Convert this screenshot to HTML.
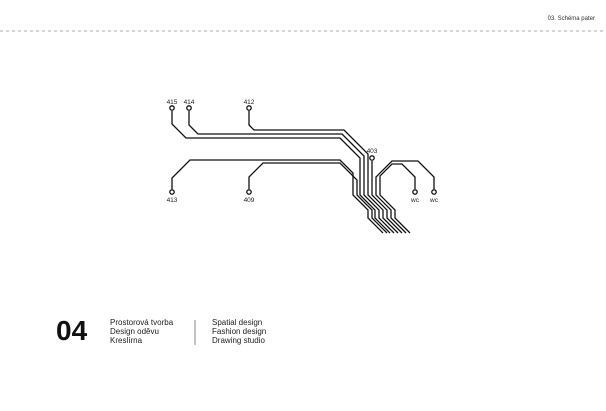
<!DOCTYPE html>
<html><head><meta charset="utf-8"><style>
body{margin:0;background:#fff;width:606px;height:406px;overflow:hidden;font-family:"Liberation Sans",sans-serif}
</style></head><body>
<svg width="606" height="406" viewBox="0 0 606 406" xmlns="http://www.w3.org/2000/svg" font-family="Liberation Sans, sans-serif">
<text x="595" y="20" font-size="6" text-anchor="end" fill="#333">03. Schéma pater</text>
<line x1="0" y1="31" x2="606" y2="31" stroke="#aaa" stroke-width="1" stroke-dasharray="3,3"/>
<g fill="none" stroke="#111" stroke-width="1.3">
<path d="M172 111 V124 L186 138 H340 L360 158 V195 L375 210 V218 L390 233"/>
<path d="M189 111 V125 L198 134 H342 L364 156 V195 L379 210 V218 L394 233"/>
<path d="M249 111 V125 L254 130 H344 L368 154 V195 L383 210 V218 L398 233"/>
<path d="M372 161 V195 L387 210 V218 L402 233"/>
<path d="M415 189 V177 L402 164 H392 L380 176 V195 L395 210 V218 L410 233"/>
<path d="M434 189 V177 L418 161 H392 L376 177 V195 L391 210 V218 L406 233"/>
<path d="M172 189 V178 L190 160 H340 L353 173 V195 L368 210 V218 L383 233"/>
<path d="M249 189 V177 L263 163 H340 L357 180 V195 L372 210 V218 L387 233"/>
</g>
<g fill="#fff" stroke="#111" stroke-width="1.3">
<circle cx="172" cy="108" r="2.2"/><circle cx="189" cy="108" r="2.2"/><circle cx="249" cy="108" r="2.2"/>
<circle cx="372" cy="158" r="2.2"/>
<circle cx="172" cy="192" r="2.2"/><circle cx="249" cy="192" r="2.2"/>
<circle cx="415" cy="192" r="2.2"/><circle cx="434" cy="192" r="2.2"/>
</g>
<g font-size="6.5" fill="#222" text-anchor="middle">
<text x="172" y="104">415</text><text x="189" y="104">414</text><text x="249" y="104">412</text>
<text x="372" y="153">403</text>
<text x="172" y="202">413</text><text x="249" y="202">409</text>
<text x="415" y="202">wc</text><text x="434" y="202">wc</text>
</g>
<text x="56" y="340" font-size="28" font-weight="bold" fill="#111">04</text>
<g font-size="8" fill="#222">
<text x="110" y="325">Prostorová tvorba</text><text x="110" y="334">Design oděvu</text><text x="110" y="343">Kreslírna</text>
<text x="212" y="325">Spatial design</text><text x="212" y="334">Fashion design</text><text x="212" y="343">Drawing studio</text>
</g>
<line x1="195" y1="320" x2="195" y2="345" stroke="#888" stroke-width="1"/>
</svg>
</body></html>
